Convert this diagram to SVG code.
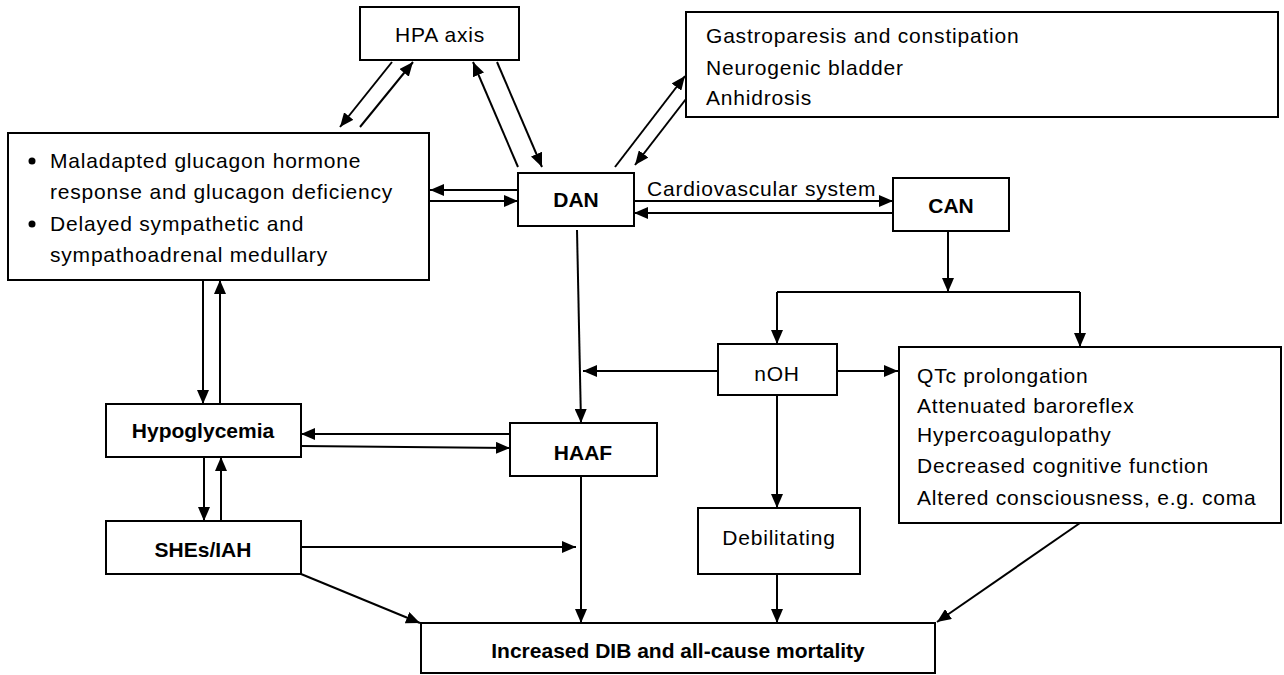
<svg xmlns="http://www.w3.org/2000/svg" width="1284" height="675" viewBox="0 0 1284 675">
<style>
.box{fill:#fff;stroke:#000;stroke-width:2}
.t{font-family:"Liberation Sans",Arial,sans-serif;font-size:21px;letter-spacing:0.8px;fill:#000}
.b{font-family:"Liberation Sans",Arial,sans-serif;font-size:21px;font-weight:bold;fill:#000}
.c{text-anchor:middle}
.ln{stroke:#000;stroke-width:2;fill:none}
.ar{marker-end:url(#ah)}
</style>
<defs>
<marker id="ah" markerUnits="userSpaceOnUse" markerWidth="15" markerHeight="12" refX="14" refY="6" orient="auto" viewBox="0 0 15 12">
<path d="M0,0 L14,6 L0,12 z" fill="#000"/>
</marker>
</defs>
<rect width="1284" height="675" fill="#fff"/>
<g id="connectors">
<line class="ln ar" x1="392" y1="62" x2="340" y2="127"/>
<line class="ln ar" x1="360" y1="127" x2="413" y2="62"/>
<line class="ln ar" x1="518" y1="167" x2="473" y2="62"/>
<line class="ln ar" x1="497" y1="62" x2="542" y2="167"/>
<line class="ln ar" x1="615" y1="167" x2="685" y2="76"/>
<line class="ln ar" x1="686" y1="99" x2="635" y2="165"/>
<line class="ln ar" x1="518" y1="190" x2="430" y2="190"/>
<line class="ln ar" x1="430" y1="201" x2="518" y2="201"/>
<line class="ln ar" x1="634" y1="201" x2="893" y2="201"/>
<line class="ln ar" x1="893" y1="213" x2="634" y2="213"/>
<line class="ln ar" x1="948" y1="231" x2="948" y2="292"/>
<line class="ln" x1="777" y1="292" x2="1080" y2="292"/>
<line class="ln ar" x1="777" y1="292" x2="777" y2="344"/>
<line class="ln ar" x1="1080" y1="292" x2="1080" y2="347"/>
<line class="ln ar" x1="837" y1="371" x2="898" y2="371"/>
<line class="ln ar" x1="718" y1="371" x2="583" y2="371"/>
<line class="ln ar" x1="577" y1="230" x2="581" y2="423"/>
<line class="ln ar" x1="777" y1="395" x2="777" y2="508"/>
<line class="ln ar" x1="777" y1="574" x2="777" y2="623"/>
<line class="ln ar" x1="581" y1="476" x2="581" y2="623"/>
<line class="ln ar" x1="301" y1="547" x2="576" y2="547"/>
<line class="ln ar" x1="301" y1="574" x2="420" y2="623"/>
<line class="ln ar" x1="1080" y1="523" x2="937" y2="622"/>
<line class="ln ar" x1="203" y1="280" x2="203" y2="404"/>
<line class="ln ar" x1="220" y1="404" x2="220" y2="280"/>
<line class="ln ar" x1="510" y1="434" x2="301" y2="434"/>
<line class="ln ar" x1="301" y1="446" x2="510" y2="448"/>
<line class="ln ar" x1="204" y1="457" x2="204" y2="521"/>
<line class="ln ar" x1="221" y1="521" x2="221" y2="457"/>
<text class="t" x="647" y="196">Cardiovascular system</text>
</g>
<g id="hpa">
<rect class="box" x="360" y="7" width="159" height="53"/>
<text class="t c" x="440" y="42">HPA axis</text>
</g>
<g id="gastro">
<rect class="box" x="686" y="12" width="592" height="105"/>
<text class="t" x="706" y="43">Gastroparesis and constipation</text>
<text class="t" x="706" y="75">Neurogenic bladder</text>
<text class="t" x="706" y="105">Anhidrosis</text>
</g>
<g id="glucagon">
<rect class="box" x="8" y="133" width="421" height="147"/>
<circle cx="32" cy="161" r="3.5" fill="#000"/>
<circle cx="32" cy="224" r="3.5" fill="#000"/>
<text class="t" x="50" y="168">Maladapted glucagon hormone</text>
<text class="t" x="50" y="199">response and glucagon deficiency</text>
<text class="t" x="50" y="231">Delayed sympathetic and</text>
<text class="t" x="50" y="262">sympathoadrenal medullary</text>
</g>
<g id="dan">
<rect class="box" x="518" y="173" width="116" height="53"/>
<text class="b c" x="576" y="207">DAN</text>
</g>
<g id="can">
<rect class="box" x="893" y="178" width="116" height="53"/>
<text class="b c" x="951" y="213">CAN</text>
</g>
<g id="noh">
<rect class="box" x="718" y="344" width="119" height="51"/>
<text class="t c" x="777" y="381">nOH</text>
</g>
<g id="qtc">
<rect class="box" x="899" y="347" width="382" height="176"/>
<text class="t" x="917" y="383">QTc prolongation</text>
<text class="t" x="917" y="413">Attenuated baroreflex</text>
<text class="t" x="917" y="442">Hypercoagulopathy</text>
<text class="t" x="917" y="473">Decreased cognitive function</text>
<text class="t" x="917" y="505">Altered consciousness, e.g. coma</text>
</g>
<g id="hypoglycemia">
<rect class="box" x="106" y="404" width="195" height="53"/>
<text class="b c" x="203" y="438">Hypoglycemia</text>
</g>
<g id="haaf">
<rect class="box" x="510" y="423" width="147" height="53"/>
<text class="b c" x="583" y="460">HAAF</text>
</g>
<g id="shes">
<rect class="box" x="106" y="521" width="195" height="53"/>
<text class="b c" x="203" y="557">SHEs/IAH</text>
</g>
<g id="debilitating">
<rect class="box" x="698" y="508" width="162" height="66"/>
<text class="t c" x="779" y="545">Debilitating</text>
</g>
<g id="mortality">
<rect class="box" x="421" y="623" width="514" height="50"/>
<text class="b c" x="678" y="658">Increased DIB and all-cause mortality</text>
</g>
</svg>
